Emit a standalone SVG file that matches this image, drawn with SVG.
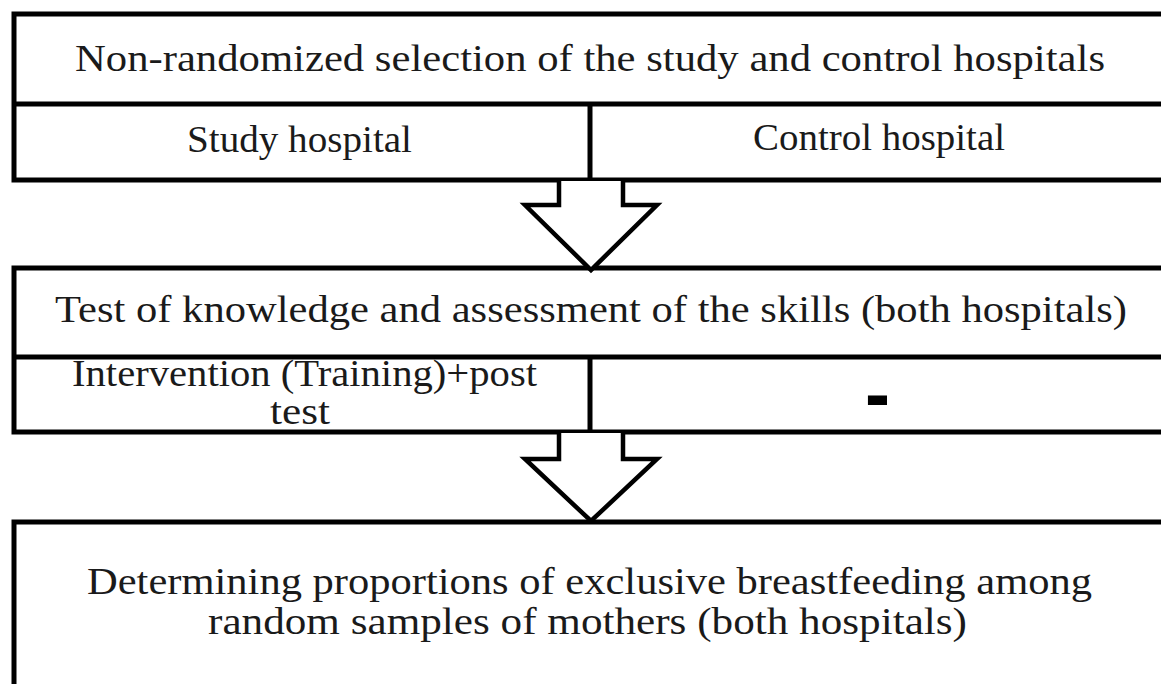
<svg xmlns="http://www.w3.org/2000/svg" width="1161" height="684" viewBox="0 0 1161 684">
<style>
.box{fill:#fff;stroke:#000;stroke-width:5}
.ln{stroke:#000;stroke-width:5;fill:none}
.arr{fill:#fff;stroke:#000;stroke-width:4.5;stroke-linejoin:miter}
text{font-family:"Liberation Serif","DejaVu Serif",serif;font-size:38px;fill:#1a1a1a}
.dash{font-family:"Liberation Sans",sans-serif;font-weight:bold;font-size:80px;fill:#000}
</style>
<rect width="1161" height="684" fill="#fff"/>
<g id="node-selection">
<rect class="box" x="14" y="14" width="1170" height="166"/>
<line class="ln" x1="14" y1="104" x2="1170" y2="104"/>
<line class="ln" x1="590" y1="104" x2="590" y2="180"/>
<text x="75" y="71" textLength="1030" lengthAdjust="spacingAndGlyphs">Non-randomized selection of the study and control hospitals</text>
<text x="187" y="152" textLength="225" lengthAdjust="spacingAndGlyphs">Study hospital</text>
<text x="753" y="150" textLength="252" lengthAdjust="spacingAndGlyphs">Control hospital</text>
</g>
<g id="node-test">
<rect class="box" x="14" y="268" width="1170" height="164"/>
<line class="ln" x1="14" y1="357" x2="1170" y2="357"/>
<line class="ln" x1="590" y1="357" x2="590" y2="432"/>
<text x="55" y="322" textLength="1072" lengthAdjust="spacingAndGlyphs">Test of knowledge and assessment of the skills (both hospitals)</text>
<text x="72" y="386" textLength="465" lengthAdjust="spacingAndGlyphs">Intervention (Training)+post</text>
<text x="270" y="424" textLength="60" lengthAdjust="spacingAndGlyphs">test</text>
<text class="dash" x="865" y="421" textLength="25" lengthAdjust="spacingAndGlyphs">-</text>
</g>
<g id="node-outcome">
<rect class="box" x="14" y="522" width="1170" height="200"/>
<text x="87" y="594" textLength="1005" lengthAdjust="spacingAndGlyphs">Determining proportions of exclusive breastfeeding among</text>
<text x="208" y="634" textLength="759" lengthAdjust="spacingAndGlyphs">random samples of mothers (both hospitals)</text>
</g>
<g id="connectors">
<polyline class="arr" points="559,181 559,205 525,205 591,270 657,205 623,205 623,181"/>
<polyline class="arr" points="559,433 559,459 525,459 591,521 657,459 623,459 623,433"/>
</g>
</svg>
